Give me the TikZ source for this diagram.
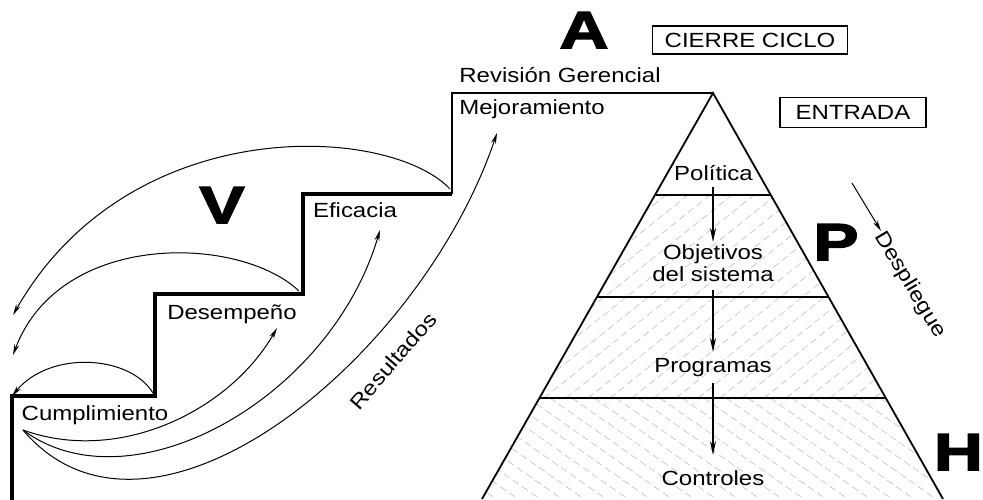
\documentclass[tikz,border=0pt]{standalone}
\usepackage{fontspec}
\setmainfont[FakeStretch=1.17]{Liberation Sans}
\newfontfamily\heavyfont[BoldFeatures={FakeBold=3,FakeStretch=1.3}]{Liberation Sans}
\usetikzlibrary{arrows.meta}
\begin{document}
\begin{tikzpicture}[x=1pt,y=-1pt,
  lbl/.style={font=\fontsize{20.5}{22}\selectfont, inner sep=0pt},
  big/.style={font=\heavyfont\bfseries\fontsize{52}{52}\selectfont, inner sep=0pt},
  stair/.style={line width=4pt, line join=miter},
  arr/.style={line width=1pt, -{Stealth[length=11pt,width=5pt]}},
  parr/.style={line width=1.4pt, -{Stealth[length=14pt,width=6pt]}},
  pyr/.style={line width=1.8pt, line join=miter},
  hatch/.style={gray!50, line width=0.6pt, dash pattern=on 7pt off 4pt},
  boxed/.style={draw, line width=1.8pt, inner sep=0pt, font=\fontsize{20.5}{22}\selectfont}
]
\useasboundingbox (0,0) rectangle (983,499);

% hatching
\begin{scope}
  \clip (713,93) -- (482,499) -- (943,499) -- cycle;
  \begin{scope}
    \clip (400,195) rectangle (960,398);
    \foreach \i in {280,302,...,900} \draw[hatch] (\i,398) -- ++(254,-203);
  \end{scope}
  \begin{scope}
    \clip (400,398) rectangle (960,499);
    \foreach \i in {330,352,...,960} \draw[hatch] (\i,398) -- ++(144,101);
  \end{scope}
\end{scope}

% pyramid
\coordinate (apex) at (713,93);
\coordinate (bl) at (482,499);
\coordinate (br) at (943,499);
\draw[pyr] (bl) -- (apex) -- (br);
\coordinate (l1a) at (656,195); \coordinate (l1b) at (771,195);
\coordinate (l2a) at (597,297); \coordinate (l2b) at (829,297);
\coordinate (l3a) at (540,398); \coordinate (l3b) at (886,398);
\draw[pyr] (l1a) -- (l1b);
\draw[pyr] (l2a) -- (l2b);
\draw[pyr] (l3a) -- (l3b);

% staircase
\coordinate (s0) at (12,500);
\coordinate (s1) at (12,396);
\coordinate (s2) at (155,396);
\coordinate (s3) at (155,294);
\coordinate (s4) at (303,294);
\coordinate (s5) at (303,194);
\coordinate (s6) at (452,194);
\coordinate (s7) at (452,93);
\draw[stair] (s0) -- (s1) -- (s2) -- (s3) -- (s4) -- (s5) -- (s6);
\draw[pyr] (s6) -- (s7) -- (apex);

% texts
\node[big, anchor=base] (A) at (584,48) {A};
\node[big, anchor=base] (P) at (836,260) {P};
\node[big, anchor=base] (V) at (222,223) {V};
\node[big, anchor=base east] (H) at (983,470) {H};
\node[boxed, minimum width=195pt, minimum height=28pt] (cierre) at (750,40) {CIERRE CICLO};
\node[boxed, minimum width=146pt, minimum height=30pt] (entrada) at (853,112.5) {ENTRADA};
\node[lbl, anchor=base] (rev) at (560,82) {Revisión Gerencial};
\node[lbl, anchor=base] (mej) at (532,114) {Mejoramiento};
\node[lbl, anchor=base] (efi) at (355,217) {Eficacia};
\node[lbl, anchor=base] (des) at (232,319) {Desempeño};
\node[lbl, anchor=base] (cum) at (95,420) {Cumplimiento};
\node[lbl, anchor=base] (pol) at (713.5,180) {Política};
\node[lbl, anchor=base] (obj) at (713,259) {Objetivos};
\node[lbl, anchor=base] (del) at (713,281) {del sistema};
\node[lbl, anchor=base] (pro) at (713,372) {Programas};
\node[lbl, anchor=base] (con) at (713,485) {Controles};
\node[lbl, rotate=49] (res) at (393,361) {Resultados};
\node[lbl, rotate=-59] (desp) at (910,285) {Despliegue};

% pyramid arrows
\coordinate (pa1) at (713,187); \coordinate (pb1) at (713,242);
\coordinate (pa2) at (713,290); \coordinate (pb2) at (713,352);
\coordinate (pa3) at (713,383); \coordinate (pb3) at (713,455);
\draw[parr] (pa1) -- (pb1);
\draw[parr] (pa2) -- (pb2);
\draw[parr] (pa3) -- (pb3);

% despliegue arrow
\coordinate (da) at (852,183); \coordinate (db) at (881,231);
\draw[arr] (da) -- (db);

% feedback arcs (left)
\coordinate (f1) at (13,315);
\coordinate (f2) at (13,355);
\coordinate (f3) at (12,396);
\coordinate (c6) at (450,189);
\coordinate (c4) at (299,291);
\coordinate (c2) at (153,393);
\draw[arr] (c6) .. controls (390,125) and (130,110) .. (f1);
\draw[arr] (c4) .. controls (240,235) and (60,230) .. (f2);
\draw[arr] (c2) .. controls (130,355) and (50,350) .. (f3);

% result arrows (upward)
\coordinate (o) at (23,430);
\coordinate (tDes) at (277,328);
\coordinate (tEfi) at (380,230);
\coordinate (tMej) at (497,133);
\draw[arr] (o) .. controls (120,465) and (230,410) .. (tDes);
\draw[arr] (o) .. controls (130,510) and (330,400) .. (tEfi);
\draw[arr] (o) .. controls (150,580) and (420,360) .. (tMej);
\end{tikzpicture}
\end{document}
